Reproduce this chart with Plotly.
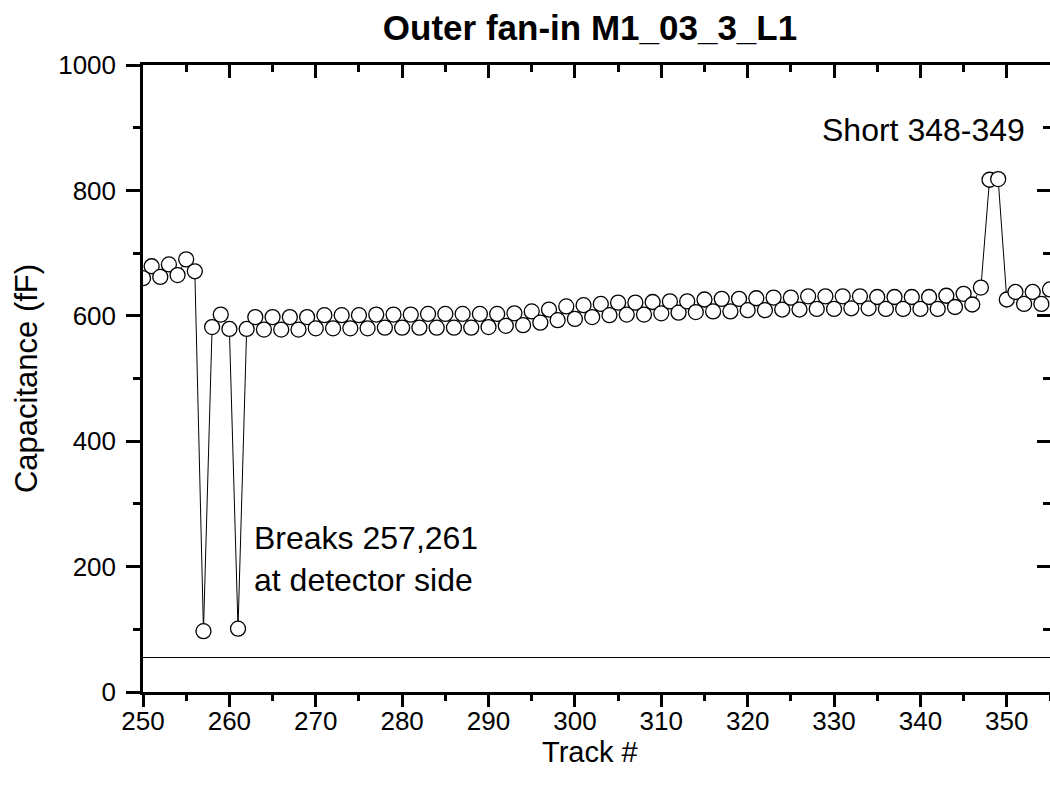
import plotly.graph_objects as go

tracks = list(range(250, 356))
capacitance = [
    660, 679, 662, 682, 665, 690, 671, 97, 582, 602,   # 250-259
    579, 101, 579, 598, 578, 598, 578, 598, 578, 598,  # 260-269
    580, 601, 580, 601, 580, 601, 580, 602, 581, 602,  # 270-279
    581, 602, 581, 603, 581, 603, 581, 603, 581, 603,  # 280-289
    582, 603, 584, 604, 585, 607, 589, 610, 593, 615,  # 290-299
    595, 617, 598, 619, 601, 621, 602, 621, 602, 622,  # 300-309
    604, 623, 605, 623, 606, 626, 607, 627, 607, 627,  # 310-319
    609, 628, 609, 629, 610, 629, 610, 631, 611, 631,  # 320-329
    611, 631, 612, 631, 612, 630, 611, 630, 611, 630,  # 330-339
    611, 630, 611, 632, 614, 635, 618, 645, 817, 818,  # 340-349
    626, 638, 619, 638, 619, 642,                      # 350-355
]
baseline_x = [250, 355]
baseline_y = [55, 55]

x_range = [250, 355]
y_range = [0, 1000]
x_ticks = [250, 260, 270, 280, 290, 300, 310, 320, 330, 340, 350]
y_ticks = [0, 200, 400, 600, 800, 1000]

title_text = "Outer fan-in M1_03_3_L1"
x_title = "Track #"
y_title = "Capacitance (fF)"
note_breaks = "Breaks 257,261<br>at detector side"
note_short = "Short 348-349"

FONT = "Liberation Sans, Arial, sans-serif"
W, H = 1050, 787
ML, MR, MT, MB = 143, 0, 65, 95

fig = go.Figure()
fig.add_trace(go.Scatter(
    x=tracks, y=capacitance, mode="lines+markers",
    line=dict(color="black", width=1),
    marker=dict(symbol="circle", size=15, color="white",
                line=dict(color="black", width=1.3)),
    showlegend=False, hoverinfo="x+y",
))
fig.add_trace(go.Scatter(
    x=baseline_x, y=baseline_y, mode="lines",
    line=dict(color="black", width=1),
    xaxis="x2", yaxis="y2", showlegend=False, hoverinfo="skip",
))

axis_common = dict(showgrid=False, zeroline=False, showline=True,
                   linecolor="black", linewidth=2.5, tickcolor="black",
                   tickwidth=2.5)

plot_w = W - ML - MR
plot_h = H - MT - MB

fig.update_layout(
    width=W, height=H,
    margin=dict(l=ML, r=MR, t=MT, b=MB),
    paper_bgcolor="white", plot_bgcolor="white",
    font=dict(family=FONT, color="black"),
    title=dict(text="<b>" + title_text + "</b>", x=590 / W, xref="container",
               xanchor="center", y=1 - 28 / H, yanchor="middle",
               font=dict(size=35, family=FONT, color="black")),
    xaxis=dict(range=x_range, tickmode="array", tickvals=x_ticks,
               ticks="outside", ticklen=12, ticklabelstandoff=-8,
               minor=dict(ticks="outside", ticklen=6, dtick=5,
                          tickcolor="black", tickwidth=2.5),
               tickfont=dict(size=26, family=FONT),
               **axis_common),
    yaxis=dict(range=y_range, tickmode="array", tickvals=y_ticks,
               ticks="outside", ticklen=14, ticklabelstandoff=5,
               minor=dict(ticks="outside", ticklen=7, dtick=100,
                          tickcolor="black", tickwidth=2.5),
               tickfont=dict(size=26, family=FONT),
               title=dict(text=y_title, font=dict(size=31, family=FONT),
                          standoff=12),
               **axis_common),
    xaxis2=dict(range=x_range, overlaying="x", side="top", anchor="y2",
                tickmode="array", tickvals=x_ticks, ticks="inside", ticklen=13,
                minor=dict(ticks="inside", ticklen=7, dtick=5,
                           tickcolor="black", tickwidth=2.5),
                showticklabels=False, **axis_common),
    yaxis2=dict(range=y_range, overlaying="y", side="right", anchor="x2",
                tickmode="array", tickvals=y_ticks, ticks="inside", ticklen=13,
                minor=dict(ticks="inside", ticklen=7, dtick=100,
                           tickcolor="black", tickwidth=2.5),
                showticklabels=False, **axis_common),
    annotations=[
        dict(text=x_title, x=(590 - ML) / plot_w,
             y=-(752 - (H - MB)) / plot_h, xref="paper", yref="paper",
             xanchor="center", yanchor="middle", showarrow=False,
             font=dict(size=29, family=FONT, color="black")),
        dict(text=note_breaks, x=262.6, y=212, xref="x", yref="y",
             xanchor="left", yanchor="middle", align="left", showarrow=False,
             font=dict(size=32, family=FONT, color="black")),
        dict(text=note_short, x=352.3, y=896, xref="x", yref="y",
             xanchor="right", yanchor="middle", align="right", showarrow=False,
             font=dict(size=32, family=FONT, color="black")),
    ],
)

fig.write_html(
    "out.html",
    config={"displayModeBar": False},
    post_script="document.body.style.margin='0';"
                "document.body.style.overflow='hidden';",
)
